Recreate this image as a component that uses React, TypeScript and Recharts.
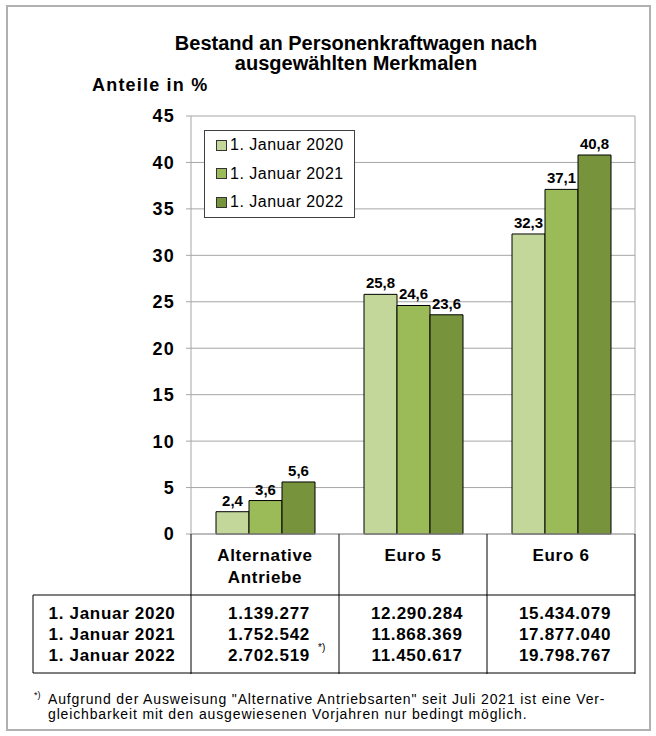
import { BarChart, Bar, XAxis, YAxis, CartesianGrid, LabelList, Legend } from "recharts"

const categories = ["Alternative Antriebe", "Euro 5", "Euro 6"]
const categoryLines = [["Alternative", "Antriebe"], ["Euro 5"], ["Euro 6"]]
const dates = ["1. Januar 2020", "1. Januar 2021", "1. Januar 2022"]
const share2020 = [2.4, 25.8, 32.3]
const share2021 = [3.6, 24.6, 37.1]
const share2022 = [5.6, 23.6, 40.8]
const stock2020 = ["1.139.277", "12.290.284", "15.434.079"]
const stock2021 = ["1.752.542", "11.868.369", "17.877.040"]
const stock2022 = ["2.702.519", "11.450.617", "19.798.767"]
const yTicks = [0, 5, 10, 15, 20, 25, 30, 35, 40, 45]
const colors = ["#c4d79b", "#9bbb59", "#77933c"]

const FONT = '"Liberation Sans", Arial, sans-serif'
const GRID = "#a6a6a6"

// layout of the plot and the table under it
const CHART_W = 656
const CHART_H = 680
const PLOT_TOP = 116
const PLOT_LEFT = 191
const PLOT_RIGHT = 635
const PLOT_BOTTOM = 534
const BAND = (PLOT_RIGHT - PLOT_LEFT) / categories.length
const TABLE_LEFT = 33
const TABLE_TOP = 595
const TABLE_BOTTOM = 673
const rowY = [613, 634, 655]
const catLineY = [555, 577]

const stocks = [stock2020, stock2021, stock2022]

const data = categories.map((name, i) => ({
  name,
  y2020: share2020[i],
  y2021: share2021[i],
  y2022: share2022[i],
}))

const fmt = (v: any) => Number(v).toFixed(1).replace(".", ",")

const cellText = {
  fontFamily: FONT,
  fontWeight: 700,
  fontSize: 17,
  fill: "#000",
  letterSpacing: 0.7,
}

function TableTick(props: any) {
  const { x, payload } = props
  const i = categories.indexOf(payload.value)
  const x0 = x - BAND / 2
  const x1 = x + BAND / 2
  const last = i === categories.length - 1
  return (
    <g>
      <line x1={x0} x2={x0} y1={PLOT_BOTTOM} y2={TABLE_BOTTOM + 1} stroke="#000" />
      {last && <line x1={x1} x2={x1} y1={PLOT_BOTTOM} y2={TABLE_BOTTOM + 1} stroke="#000" />}
      <line x1={x0} x2={x1} y1={TABLE_TOP} y2={TABLE_TOP} stroke="#000" />
      <line x1={x0} x2={x1} y1={TABLE_BOTTOM} y2={TABLE_BOTTOM} stroke="#000" />
      {categoryLines[i].map((t, k) => (
        <text key={k} x={x} y={catLineY[k]} textAnchor="middle" dominantBaseline="central" {...cellText}>
          {t}
        </text>
      ))}
      {stocks.map((col, r) => (
        <text key={r} x={x + 4} y={rowY[r]} textAnchor="middle" dominantBaseline="central" {...cellText}>
          {col[i]}
        </text>
      ))}
      {i === 0 && (
        <text x={x + 53} y={rowY[2] - 4} fontFamily={FONT} fontSize={10} fill="#000">
          *)
        </text>
      )}
      {i === 0 && (
        <g>
          <line x1={TABLE_LEFT} x2={x0} y1={TABLE_TOP} y2={TABLE_TOP} stroke="#000" />
          <line x1={TABLE_LEFT} x2={x0} y1={TABLE_BOTTOM} y2={TABLE_BOTTOM} stroke="#000" />
          <line x1={TABLE_LEFT} x2={TABLE_LEFT} y1={TABLE_TOP} y2={TABLE_BOTTOM} stroke="#000" />
          {dates.map((d, r) => (
            <text key={r} x={(TABLE_LEFT + x0) / 2} y={rowY[r]} textAnchor="middle" dominantBaseline="central" {...cellText}>
              {d}
            </text>
          ))}
        </g>
      )}
    </g>
  )
}

function LegendBox({ payload }: any) {
  return (
    <div
      style={{
        border: "1px solid #404040",
        background: "#fff",
        width: 151,
        height: 88,
        boxSizing: "border-box",
        paddingLeft: 11,
        fontFamily: FONT,
        fontSize: 16,
        letterSpacing: 0.5,
        color: "#000",
      }}
    >
      {(payload || []).map((p: any) => (
        <div key={p.value} style={{ height: 28.5, display: "flex", alignItems: "center" }}>
          <span
            style={{
              display: "inline-block",
              width: 9,
              height: 9,
              background: p.color,
              border: "1px solid #333",
              marginRight: 3,
            }}
          />
          <span>{p.value}</span>
        </div>
      ))}
    </div>
  )
}

export default function App() {
  return (
    <div
      style={{
        position: "absolute",
        left: 0,
        top: 0,
        width: 656,
        height: 736,
        background: "#fff",
        overflow: "hidden",
        fontFamily: FONT,
        color: "#000",
      }}
    >
      <div
        style={{
          position: "absolute",
          left: 6,
          top: 5,
          width: 645,
          height: 726,
          border: "2px solid #b0b0b0",
          boxSizing: "border-box",
        }}
      />
      <div
        style={{
          position: "absolute",
          left: 106,
          top: 33,
          width: 500,
          textAlign: "center",
          fontWeight: 700,
          fontSize: 20,
          lineHeight: "20px",
        }}
      >
        Bestand an Personenkraftwagen nach
        <br />
        ausgewählten Merkmalen
      </div>
      <div
        style={{
          position: "absolute",
          left: 92,
          top: 76,
          fontWeight: 700,
          fontSize: 18,
          lineHeight: "18px",
          letterSpacing: 1.2,
        }}
      >
        Anteile in %
      </div>

      <div style={{ position: "absolute", left: 0, top: 0 }}>
        <BarChart
          width={CHART_W}
          height={CHART_H}
          data={data}
          margin={{ top: PLOT_TOP, right: CHART_W - PLOT_RIGHT - 1, bottom: 0, left: 0 }}
          barCategoryGap={25}
          barGap={0}
        >
          <CartesianGrid vertical={false} stroke={GRID} />
          <XAxis
            dataKey="name"
            height={CHART_H - PLOT_BOTTOM}
            interval={0}
            tickLine={false}
            tickSize={0}
            axisLine={{ stroke: GRID }}
            tick={<TableTick />}
          />
          <YAxis
            width={PLOT_LEFT}
            domain={[0, 45]}
            ticks={yTicks}
            interval={0}
            tickSize={5}
            tickMargin={11}
            axisLine={{ stroke: GRID }}
            tickLine={{ stroke: GRID }}
            tick={{ fontFamily: FONT, fontWeight: 700, fontSize: 18, fill: "#000", letterSpacing: 1.2 }}
          />
          <YAxis
            yAxisId="right"
            orientation="right"
            width={1}
            domain={[0, 45]}
            tick={false}
            tickLine={false}
            axisLine={{ stroke: GRID }}
          />
          <Legend
            layout="vertical"
            align="center"
            verticalAlign="middle"
            content={<LegendBox />}
            wrapperStyle={{ left: 204, top: 130, width: 151, height: 88 }}
          />
          <Bar dataKey="y2020" name={dates[0]} fill={colors[0]} stroke="#000" strokeWidth={1} isAnimationActive={false}>
            <LabelList dataKey="y2020" position="top" offset={6} formatter={fmt} fill="#000" fontSize={15} fontWeight={700} fontFamily={FONT} />
          </Bar>
          <Bar dataKey="y2021" name={dates[1]} fill={colors[1]} stroke="#000" strokeWidth={1} isAnimationActive={false}>
            <LabelList dataKey="y2021" position="top" offset={6} formatter={fmt} fill="#000" fontSize={15} fontWeight={700} fontFamily={FONT} />
          </Bar>
          <Bar dataKey="y2022" name={dates[2]} fill={colors[2]} stroke="#000" strokeWidth={1} isAnimationActive={false}>
            <LabelList dataKey="y2022" position="top" offset={6} formatter={fmt} fill="#000" fontSize={15} fontWeight={700} fontFamily={FONT} />
          </Bar>
        </BarChart>
      </div>

      <div style={{ position: "absolute", left: 34, top: 690, fontSize: 9, lineHeight: "10px" }}>*)</div>
      <div style={{ position: "absolute", left: 48, top: 692, fontSize: 14, lineHeight: "15px", letterSpacing: 0.85 }}>
        Aufgrund der Ausweisung "Alternative Antriebsarten" seit Juli 2021 ist eine Ver-
      </div>
      <div style={{ position: "absolute", left: 48, top: 707, fontSize: 14, lineHeight: "15px", letterSpacing: 0.85 }}>
        gleichbarkeit mit den ausgewiesenen Vorjahren nur bedingt möglich.
      </div>
    </div>
  )
}
